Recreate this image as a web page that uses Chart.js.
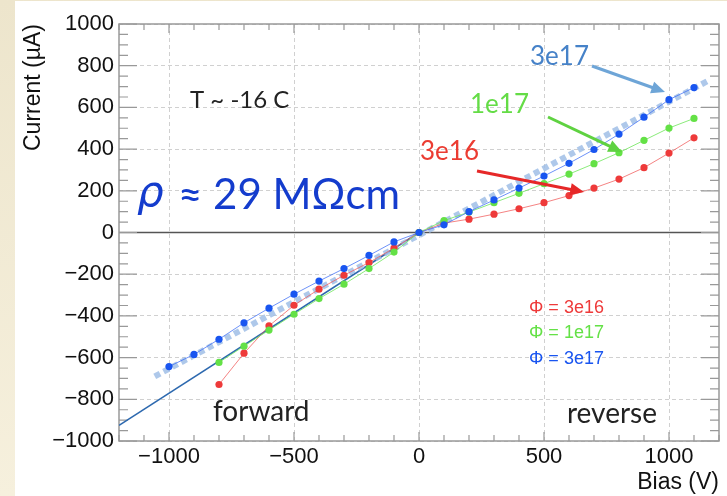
<!DOCTYPE html>
<html>
<head>
<meta charset="utf-8">
<script src="https://cdn.jsdelivr.net/npm/chart.js@4.4.1/dist/chart.umd.min.js"></script>
<style>
  html, body { margin: 0; padding: 0; }
  body { width: 727px; height: 496px; background: linear-gradient(180deg, #ede5cc, #f6f0dd); overflow: hidden; }
  #wrap { position: absolute; left: 15px; top: 1px; width: 712px; height: 495px; background: #fff; }
</style>
</head>
<body>
<div id="wrap"><canvas id="ivChart" width="712" height="495"></canvas></div>
<script>
// Bias (V) and current (uA)
const biasBlue = [-1000, -900, -800, -700, -600, -500, -400, -300, -200, -100, 0, 100, 200, 300, 400, 500, 600, 700, 800, 900, 1000, 1100];
const currentBlue = [-643, -585, -512, -433, -363, -296, -233, -173, -110, -45, 0, 37, 100, 156, 213, 271, 332, 398, 472, 553, 637, 695];

const biasGreen = [-800, -700, -600, -500, -400, -300, -200, -100, 0, 100, 200, 300, 400, 500, 600, 700, 800, 900, 1000, 1100];
const currentGreen = [-623, -545, -468, -392, -317, -248, -173, -94, 0, 57, 98, 143, 188, 234, 280, 330, 383, 442, 501, 547];

const biasRed = [-800, -700, -600, -500, -400, -300, -200, -100, 0, 100, 200, 300, 400, 500, 600, 700, 800, 900, 1000, 1100];
const currentRed = [-729, -579, -448, -349, -272, -205, -144, -75, 0, 45, 64, 88, 114, 143, 177, 213, 256, 311, 381, 454];

// straight-line fits
const fitDarkBias = [-1200, 0];
const fitDarkCurrent = [-925, 0];
const fitLightBias = [-1057, 1160];
const fitLightCurrent = [-690, 730];

const xTicks = [-1000, -500, 0, 500, 1000];
const yTicks = [-1000, -800, -600, -400, -200, 0, 200, 400, 600, 800, 1000];

const legendLabels = ['Φ = 3e16', 'Φ = 1e17', 'Φ = 3e17'];

function toPoints(xs, ys) {
    return xs.map((x, i) => ({ x: x, y: ys[i] }));
}

const RED = 'rgb(238, 58, 58)';
const GREEN = 'rgb(100, 225, 70)';
const BLUE = 'rgb(25, 85, 240)';

function arrow(ctx, x1, y1, x2, y2, color) {
    const ang = Math.atan2(y2 - y1, x2 - x1);
    const head = 15;
    ctx.save();
    ctx.strokeStyle = color;
    ctx.fillStyle = color;
    ctx.lineWidth = 3;
    ctx.beginPath();
    ctx.moveTo(x1, y1);
    ctx.lineTo(x2 - Math.cos(ang) * head * 0.8, y2 - Math.sin(ang) * head * 0.8);
    ctx.stroke();
    ctx.beginPath();
    ctx.moveTo(x2, y2);
    ctx.lineTo(x2 - head * Math.cos(ang - 0.42), y2 - head * Math.sin(ang - 0.42));
    ctx.lineTo(x2 - head * Math.cos(ang + 0.42), y2 - head * Math.sin(ang + 0.42));
    ctx.closePath();
    ctx.fill();
    ctx.restore();
}

// frame, inner ticks and zero line (ROOT style)
const framePlugin = {
    id: 'framePlugin',
    beforeDatasetsDraw(chart) {
        const { ctx, chartArea: a, scales: { x, y } } = chart;
        ctx.save();
        // zero line
        ctx.strokeStyle = '#555';
        ctx.lineWidth = 1.5;
        ctx.beginPath();
        ctx.moveTo(a.left, y.getPixelForValue(0));
        ctx.lineTo(a.right, y.getPixelForValue(0));
        ctx.stroke();
        // ticks
        ctx.strokeStyle = '#999';
        ctx.lineWidth = 1.2;
        ctx.beginPath();
        for (let v = -1200; v <= 1200; v += 100) {
            const px = x.getPixelForValue(v);
            const len = v % 500 === 0 ? 9 : 6;
            ctx.moveTo(px, a.bottom); ctx.lineTo(px, a.bottom - len);
            ctx.moveTo(px, a.top); ctx.lineTo(px, a.top + len);
        }
        for (let v = -1000; v <= 1000; v += 50) {
            const py = y.getPixelForValue(v);
            const len = v % 200 === 0 ? 18 : 9;
            ctx.moveTo(a.left, py); ctx.lineTo(a.left + len, py);
            ctx.moveTo(a.right, py); ctx.lineTo(a.right - len, py);
        }
        ctx.stroke();
        // frame
        ctx.strokeStyle = '#999';
        ctx.lineWidth = 1.5;
        ctx.strokeRect(a.left, a.top, a.right - a.left, a.bottom - a.top);
        ctx.restore();
    },
    afterDraw(chart) {
        const { ctx } = chart;
        ctx.save();
        ctx.textBaseline = 'middle';
        ctx.textAlign = 'left';
        // temperature note
        ctx.fillStyle = '#222';
        ctx.font = '24px Lato';
        ctx.fillText('T ~ -16 C', 175, 99);
        // resistivity
        ctx.fillStyle = 'rgb(20, 60, 205)';
        ctx.font = 'italic 42px "DejaVu Sans"';
        ctx.fillText('ρ', 122, 194);
        ctx.font = '42px Lato';
        ctx.fillText('≈ 29 MΩcm', 163, 194);
        // forward / reverse
        ctx.fillStyle = '#222';
        ctx.font = '28px Lato';
        ctx.fillText('forward', 198, 411);
        ctx.fillText('reverse', 552, 413);
        // fluence labels + arrows
        ctx.font = '26px Lato';
        ctx.fillStyle = 'rgb(70, 130, 200)';
        ctx.fillText('3e17', 515, 56);
        arrow(ctx, 577, 65, 650, 91, 'rgb(110, 165, 215)');
        ctx.fillStyle = 'rgb(100, 220, 70)';
        ctx.fillText('1e17', 455, 104);
        arrow(ctx, 533, 116, 607, 151, 'rgb(95, 210, 65)');
        ctx.fillStyle = 'rgb(235, 60, 50)';
        ctx.fillText('3e16', 405, 151);
        arrow(ctx, 462, 170, 569, 191, 'rgb(230, 40, 40)');
        // legend
        ctx.font = '18px "Liberation Sans"';
        const colors = [RED, GREEN, BLUE];
        legendLabels.forEach((t, i) => {
            ctx.fillStyle = colors[i];
            ctx.fillText(t, 514, 307 + i * 25.5);
        });
        ctx.restore();
    }
};

new Chart(document.getElementById('ivChart'), {
    type: 'scatter',
    data: {
        datasets: [
            {
                data: toPoints(biasBlue, currentBlue),
                showLine: true,
                borderColor: 'rgba(60, 110, 245, 0.75)',
                borderWidth: 1,
                backgroundColor: BLUE,
                pointRadius: 3.6,
                pointBorderWidth: 0
            },
            {
                data: toPoints(biasGreen, currentGreen),
                showLine: true,
                borderColor: 'rgba(110, 230, 90, 0.8)',
                borderWidth: 1,
                backgroundColor: GREEN,
                pointRadius: 3.6,
                pointBorderWidth: 0
            },
            {
                data: toPoints(biasRed, currentRed),
                showLine: true,
                borderColor: 'rgba(240, 90, 90, 0.75)',
                borderWidth: 1,
                backgroundColor: RED,
                pointRadius: 3.6,
                pointBorderWidth: 0
            },
            {
                data: toPoints(fitLightBias, fitLightCurrent),
                showLine: true,
                borderColor: 'rgba(160, 190, 230, 0.85)',
                borderWidth: 6,
                borderDash: [6, 4],
                pointRadius: 0
            },
            {
                data: toPoints(fitDarkBias, fitDarkCurrent),
                showLine: true,
                borderColor: 'rgb(45, 105, 175)',
                borderWidth: 1.6,
                pointRadius: 0
            }
        ]
    },
    options: {
        responsive: false,
        animation: false,
        maintainAspectRatio: false,
        layout: { padding: { top: 23, right: 8, left: 0, bottom: 0 } },
        plugins: {
            legend: { display: false },
            tooltip: { enabled: false }
        },
        scales: {
            x: {
                type: 'linear',
                min: -1200,
                max: 1200,
                afterBuildTicks: s => { s.ticks = xTicks.map(v => ({ value: v })); },
                afterFit: s => { s.height = 55; },
                ticks: {
                    color: '#111',
                    font: { family: 'Liberation Sans', size: 22 },
                    padding: 3,
                    maxRotation: 0,
                    callback: v => String(v).replace('-', '\u2212')
                },
                grid: { color: '#d0d0d0', lineWidth: 1, drawTicks: false },
                border: { display: false, dash: [4, 3] },
                title: {
                    display: true,
                    text: 'Bias (V)',
                    align: 'end',
                    color: '#111',
                    font: { family: 'Liberation Sans', size: 23 },
                    padding: { top: 0, bottom: 0 }
                }
            },
            y: {
                type: 'linear',
                min: -1000,
                max: 1000,
                afterBuildTicks: s => { s.ticks = yTicks.map(v => ({ value: v })); },
                afterFit: s => { s.width = 104; },
                ticks: {
                    color: '#111',
                    font: { family: 'Liberation Sans', size: 22 },
                    padding: 5,
                    callback: v => String(v).replace('-', '\u2212')
                },
                grid: { color: '#d0d0d0', lineWidth: 1, drawTicks: false },
                border: { display: false, dash: [4, 3] },
                title: {
                    display: true,
                    text: 'Current (µA)',
                    align: 'end',
                    color: '#111',
                    font: { family: 'Liberation Sans', size: 23 },
                    padding: { top: 5, bottom: 0 }
                }
            }
        }
    },
    plugins: [framePlugin]
});
</script>
</body>
</html>
